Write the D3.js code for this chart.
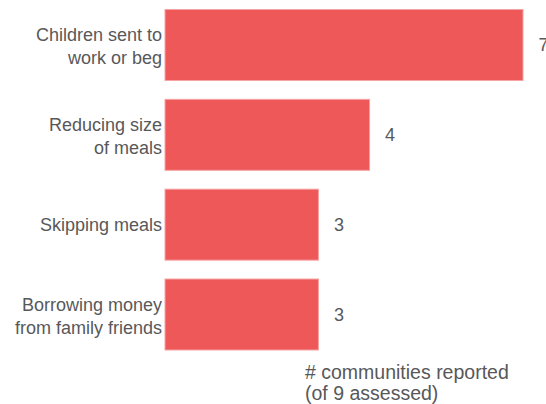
<!DOCTYPE html>
<html>
<head>
<meta charset="utf-8">
<script src="https://cdn.jsdelivr.net/npm/d3@7"></script>
<style>
  html, body { margin: 0; padding: 0; background: #fff; }
  svg { display: block; }
</style>
</head>
<body>
<svg id="chart" width="546" height="404"></svg>
<script>
const categories = [
  ["Children sent to", "work or beg"],
  ["Reducing size", "of meals"],
  ["Skipping meals"],
  ["Borrowing money", "from family friends"]
];
const values = [7, 4, 3, 3];
const axisTitle = ["# communities reported", "(of 9 assessed)"];

const W = 546, H = 404;
const svg = d3.select("#chart");
const font = "'Liberation Sans', Arial, sans-serif";
const textColor = "#58585A";
const barColor = "#EE5859";

const ids = categories.map((c, i) => i);
const x = d3.scaleLinear().domain([0, 7]).range([165, 523]);
const y = d3.scaleBand().domain(ids).range([9.5, 350]).paddingInner(0.21).paddingOuter(0);

svg.selectAll("rect.bar")
  .data(values)
  .join("rect")
  .attr("class", "bar")
  .attr("x", x(0))
  .attr("y", (d, i) => y(i))
  .attr("width", d => x(d) - x(0))
  .attr("height", y.bandwidth())
  .attr("fill", barColor)
  .attr("stroke", "#F6A3A3")
  .attr("stroke-width", 1);

// value labels
svg.selectAll("text.val")
  .data(values)
  .join("text")
  .attr("class", "val")
  .attr("x", d => x(d) + 15.5)
  .attr("y", (d, i) => y(i) + y.bandwidth() / 2 + 6.5)
  .attr("font-family", font)
  .attr("font-size", 18)
  .attr("fill", textColor)
  .text(d => d);

// category labels
const lh = 23;
svg.selectAll("text.cat")
  .data(categories)
  .join("text")
  .attr("class", "cat")
  .attr("text-anchor", "end")
  .attr("font-family", font)
  .attr("font-size", 18)
  .attr("fill", textColor)
  .each(function(lines, i) {
    const cy = y(i) + y.bandwidth() / 2;
    const t = d3.select(this);
    const first = lines.length === 1 ? cy + 6.5 : cy - 4;
    lines.forEach((ln, j) => {
      t.append("tspan").attr("x", 162).attr("y", first + j * lh).text(ln);
    });
  });

// axis title
const at = svg.append("text")
  .attr("font-family", font)
  .attr("font-size", 19.5)
  .attr("fill", textColor);
axisTitle.forEach((ln, j) => {
  at.append("tspan").attr("x", 305).attr("y", 378.5 + j * 21.5).text(ln);
});
</script>
</body>
</html>
